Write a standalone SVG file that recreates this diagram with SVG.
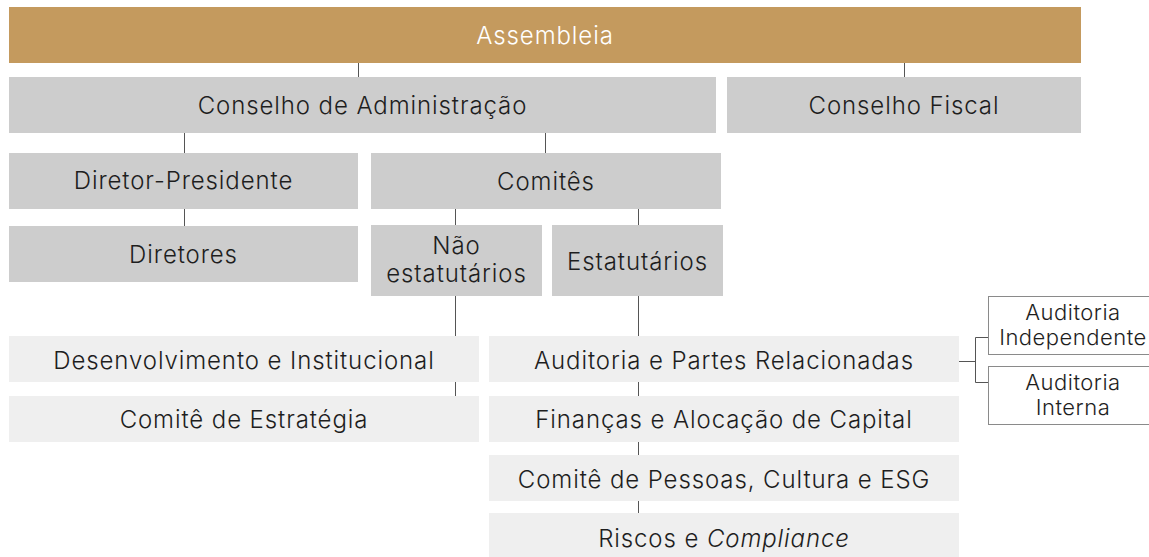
<svg xmlns="http://www.w3.org/2000/svg" width="1149" height="557" viewBox="0 0 1149 557">
<style>
text{font-family:Inter,"Noto Sans","Liberation Sans",sans-serif;font-size:24px;font-weight:300;letter-spacing:0.9px;fill:#1e1e1e;text-anchor:middle}
.gold{fill:#c49a5e}
.dark{fill:#cdcdcd}
.light{fill:#efefef}
.out{fill:#fff;stroke:#8a8a8a;stroke-width:1}
.w{fill:#fff}
.sm{font-size:22px;letter-spacing:0.5px}
.conn line,.conn path{stroke:#555;stroke-width:1;fill:none}
</style>
<rect width="1149" height="557" fill="#fff"/>
<g class="conn" id="connectors">
<line x1="358.5" y1="63" x2="358.5" y2="77"/>
<line x1="904.5" y1="63" x2="904.5" y2="77"/>
<line x1="184.5" y1="133" x2="184.5" y2="153"/>
<line x1="545.5" y1="133" x2="545.5" y2="153"/>
<line x1="184.5" y1="209" x2="184.5" y2="226"/>
<line x1="455.5" y1="209" x2="455.5" y2="225"/>
<line x1="638.5" y1="209" x2="638.5" y2="225"/>
<line x1="455.5" y1="296" x2="455.5" y2="336"/>
<line x1="455.5" y1="382" x2="455.5" y2="396"/>
<line x1="638.5" y1="296" x2="638.5" y2="336"/>
<line x1="638.5" y1="382" x2="638.5" y2="396"/>
<line x1="638.5" y1="442" x2="638.5" y2="455"/>
<line x1="638.5" y1="501" x2="638.5" y2="513"/>
<path d="M959 361.5H975.5M989 337.5H975.5V382.5H989"/>
</g>
<g id="assembleia"><rect class="gold" x="9" y="7" width="1072" height="56"/><text class="w" x="545" y="44">Assembleia</text></g>
<g id="conselho-adm"><rect class="dark" x="9" y="77" width="707" height="56"/><text x="362.5" y="113.5">Conselho de Administração</text></g>
<g id="conselho-fiscal"><rect class="dark" x="727" y="77" width="354" height="56"/><text x="904" y="113.5">Conselho Fiscal</text></g>
<g id="diretor-presidente"><rect class="dark" x="9" y="153" width="349" height="56"/><text x="183.5" y="189">Diretor-Presidente</text></g>
<g id="comites"><rect class="dark" x="371" y="153" width="350" height="56"/><text x="546" y="189.5">Comitês</text></g>
<g id="diretores"><rect class="dark" x="9" y="226" width="349" height="56"/><text x="183.5" y="263">Diretores</text></g>
<g id="nao-estatutarios"><rect class="dark" x="371" y="225" width="171" height="71"/><text x="456.5" y="253.5">Não</text><text x="456.5" y="282">estatutários</text></g>
<g id="estatutarios"><rect class="dark" x="552" y="225" width="171" height="71"/><text x="637.5" y="269.5">Estatutários</text></g>
<g id="desenvolvimento"><rect class="light" x="9" y="336" width="470" height="46"/><text x="244" y="369">Desenvolvimento e Institucional</text></g>
<g id="estrategia"><rect class="light" x="9" y="396" width="470" height="46"/><text x="244" y="428">Comitê de Estratégia</text></g>
<g id="auditoria-partes"><rect class="light" x="489" y="336" width="470" height="46"/><text x="724" y="369">Auditoria e Partes Relacionadas</text></g>
<g id="financas"><rect class="light" x="489" y="396" width="470" height="46"/><text x="724" y="428">Finanças e Alocação de Capital</text></g>
<g id="pessoas"><rect class="light" x="489" y="455" width="470" height="46"/><text x="724" y="488">Comitê de Pessoas, Cultura e ESG</text></g>
<g id="riscos"><rect class="light" x="489" y="513" width="470" height="44"/><text x="724" y="547">Riscos e <tspan font-style="italic">Compliance</tspan></text></g>
<g id="auditoria-independente"><rect class="out" x="988.5" y="296.5" width="170" height="58"/><text class="sm" x="1073" y="320">Auditoria</text><text class="sm" x="1073" y="345">Independente</text></g>
<g id="auditoria-interna"><rect class="out" x="988.5" y="366.5" width="170" height="58"/><text class="sm" x="1073" y="390">Auditoria</text><text class="sm" x="1073" y="415">Interna</text></g>
</svg>
